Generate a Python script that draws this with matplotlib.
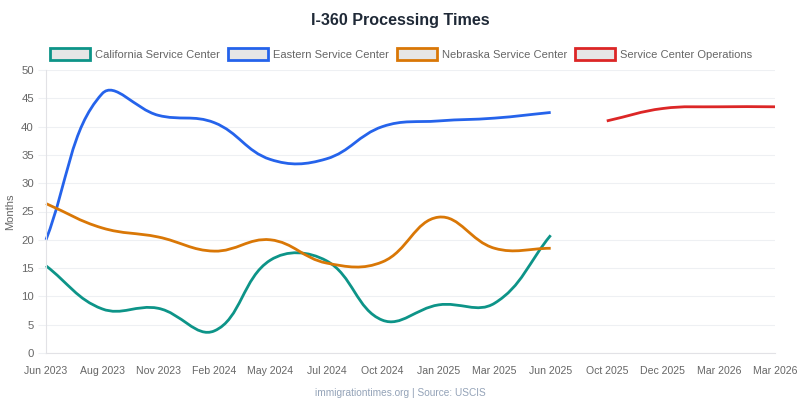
import matplotlib
matplotlib.use("Agg")
import matplotlib.pyplot as plt
from matplotlib.path import Path
from matplotlib.patches import PathPatch, Rectangle
import numpy as np

plt.rcParams['font.family'] = ['Liberation Sans', 'DejaVu Sans']

title = "I-360 Processing Times"
categories = ["Jun 2023", "Aug 2023", "Nov 2023", "Feb 2024", "May 2024", "Jul 2024",
              "Oct 2024", "Jan 2025", "Mar 2025", "Jun 2025", "Oct 2025", "Dec 2025",
              "Mar 2026", "Mar 2026"]
california = [15.4, 7.8, 7.9, 3.9, 16.4, 16.3, 5.8, 8.5, 8.8, 20.8, None, None, None, None]
eastern = [20.0, 45.8, 42.0, 40.7, 34.2, 34.3, 40.0, 41.0, 41.5, 42.5, None, None, None, None]
nebraska = [26.4, 22.1, 20.5, 18.0, 20.0, 15.9, 16.1, 24.0, 18.5, 18.5, None, None, None, None]
operations = [None, None, None, None, None, None, None, None, None, None, 41.0, 43.2, 43.5, 43.5]

series = [
    ("California Service Center", california, "#0d9488"),
    ("Eastern Service Center", eastern, "#2563eb"),
    ("Nebraska Service Center", nebraska, "#d97706"),
    ("Service Center Operations", operations, "#dc2626"),
]

W, H = 800, 400
fig = plt.figure(figsize=(8, 4), dpi=100)
L, R, T, B = 46, 775, 70, 353
ax = fig.add_axes([L / W, 1 - B / H, (R - L) / W, (B - T) / H])
ax.set_xlim(0, len(categories) - 1)
ax.set_ylim(0, 50)

grid_c = "#eef0f3"
ax.set_yticks(np.arange(0, 51, 5))
ax.set_xticks(range(len(categories)))
ax.set_xticklabels(categories)
ax.grid(axis='y', color=grid_c, linewidth=0.8)
ax.grid(axis='x', visible=False)
for s in ["top", "right"]:
    ax.spines[s].set_visible(False)
for s in ["left", "bottom"]:
    ax.spines[s].set_color("#e2e2e6")
    ax.spines[s].set_linewidth(0.8)
ax.tick_params(axis='y', length=5.8, color=grid_c, labelcolor="#666666", labelsize=8.2, pad=2.9)
ax.tick_params(axis='x', length=0, labelcolor="#666666", labelsize=7.6, pad=9)
ax.set_ylabel("Months", color="#666666", fontsize=8.0)
ax.yaxis.set_label_coords((15 - L) / (R - L), 0.5)
ax.set_axisbelow(True)

fig.canvas.draw()
trans = ax.transData
inv = trans.inverted()


def spline_path(xs, ys, tension=0.4):
    pts = trans.transform(np.column_stack([xs, ys]))
    n = len(pts)
    cps = []
    for i in range(n):
        prev = pts[i - 1] if i > 0 else pts[i]
        cur = pts[i]
        nxt = pts[i + 1] if i < n - 1 else pts[i]
        d01 = np.hypot(*(cur - prev))
        d12 = np.hypot(*(nxt - cur))
        tot = d01 + d12
        s01 = d01 / tot if tot else 0
        s12 = d12 / tot if tot else 0
        fa = tension * s01
        fb = tension * s12
        c1 = cur - fa * (nxt - prev)
        c2 = cur + fb * (nxt - prev)
        cps.append((c1, c2))
    verts = [pts[0]]
    codes = [Path.MOVETO]
    for i in range(n - 1):
        verts += [cps[i][1], cps[i + 1][0], pts[i + 1]]
        codes += [Path.CURVE4] * 3
    verts = inv.transform(np.array(verts))
    return Path(verts, codes)


for name, vals, color in series:
    xs = [i for i, v in enumerate(vals) if v is not None]
    ys = [v for v in vals if v is not None]
    p = spline_path(xs, ys)
    ax.add_patch(PathPatch(p, facecolor="none", edgecolor=color, linewidth=2,
                           capstyle='butt', joinstyle='round', clip_on=False))

fig.text(0.5, 1 - 20 / H, title, ha='center', va='center', fontsize=11.6,
         fontweight='bold', color="#1f2937")

leg_x = [50, 228, 397, 575]
for (name, vals, color), x0 in zip(series, leg_x):
    fig.patches.append(Rectangle((x0 / W, 1 - 60 / H), 40 / W, 12 / H,
                                 transform=fig.transFigure, facecolor="#e6e6e6",
                                 edgecolor=color, linewidth=2, figure=fig))
    fig.text((x0 + 45) / W, 1 - 54.5 / H, name, ha='left', va='center',
             fontsize=8.0, color="#666666")

fig.text(0.5, 1 - 393 / H, "immigrationtimes.org | Source: USCIS", ha='center',
         va='center', fontsize=7.3, color="#94a3b8")

fig.savefig("out.png", dpi=100)
